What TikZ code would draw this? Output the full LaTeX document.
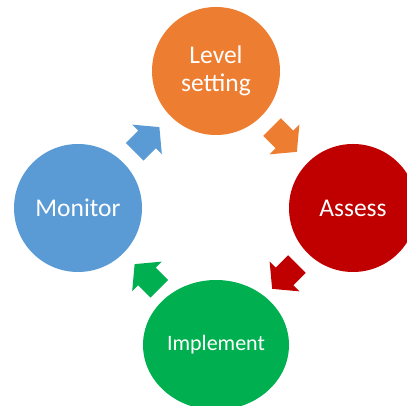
\documentclass[tikz,border=0pt]{standalone}
\usepackage{fontspec}
\setmainfont{Carlito}
\usetikzlibrary{shapes.geometric,calc}
\definecolor{cOrange}{HTML}{ED7D31}
\definecolor{cRed}{HTML}{C00000}
\definecolor{cGreen}{HTML}{00B050}
\definecolor{cBlue}{HTML}{5B9BD5}
\newcommand\cyclearrow[3]{%
  \fill[#3, shift={(#1)}, rotate=#2]
    (-17.5,12.5) -- (0,12.5) -- (0,21) -- (17.5,0) -- (0,-21) -- (0,-12.5) -- (-17.5,-12.5) -- cycle;}
\begin{document}
\begin{tikzpicture}[x=1pt,y=1pt,
  stagefont/.style={text=white, align=center, font=\fontsize{25.5}{27.5}\selectfont},
  stage/.style={circle, minimum size=128pt, inner sep=0pt, stagefont},
  wide/.style={ellipse, minimum width=146pt, minimum height=130pt, inner sep=0pt}]
\useasboundingbox (0,0) rectangle (407,406);
\clip (0,0) rectangle (407,406);
\node[stage, fill=cOrange] (lvl) at (216,335) {Level\\setting};
\node[stage, fill=cRed] (ass) at (353,198) {Assess};
\node[wide, fill=cGreen, label={[stagefont, font=\fontsize{22}{26}\selectfont]center:Implement}] (imp) at (216,61) {};
\node[stage, fill=cBlue] (mon) at (78,198) {Monitor};
\coordinate (a1) at ($(lvl.center)!0.5!(ass.center)$);
\coordinate (a2) at ($(ass.center)!0.5!(imp.center)$);
\coordinate (a3) at ($(imp.center)!0.5!(mon.center)$);
\coordinate (a4) at ($(mon.center)!0.5!(lvl.center)$);
\cyclearrow{a1}{-45}{cOrange}
\cyclearrow{a2}{-135}{cRed}
\cyclearrow{a3}{135}{cGreen}
\cyclearrow{a4}{45}{cBlue}
\end{tikzpicture}
\end{document}
